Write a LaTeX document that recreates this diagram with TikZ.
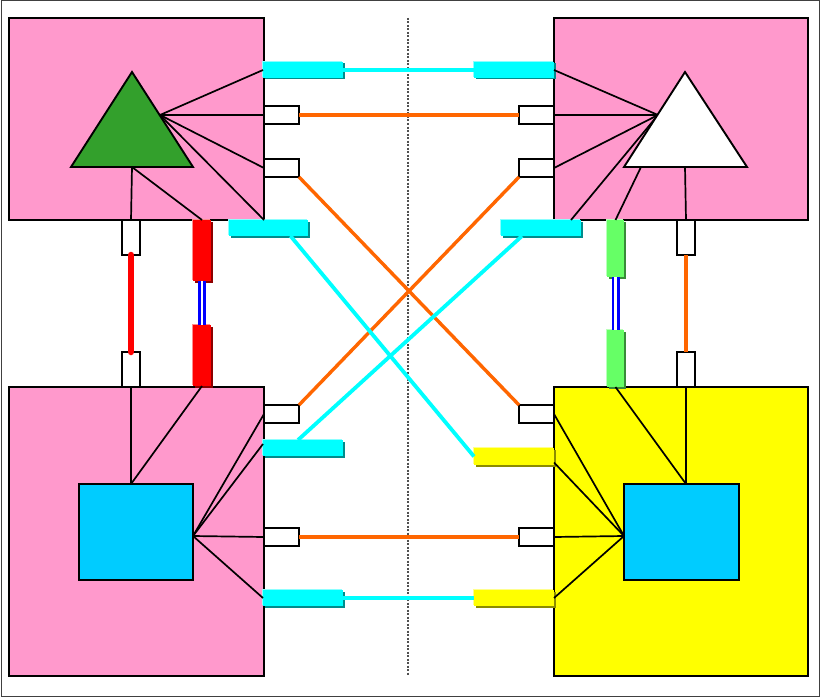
\documentclass[tikz,border=0pt]{standalone}
\usetikzlibrary{shadows}
\definecolor{boxpink}{RGB}{255,153,204}
\definecolor{boxyellow}{RGB}{255,255,0}
\definecolor{trigreen}{RGB}{51,160,44}
\definecolor{sqblue}{RGB}{0,204,255}
\definecolor{linkcyan}{RGB}{0,255,255}
\definecolor{linkred}{RGB}{255,0,0}
\definecolor{linkblue}{RGB}{0,0,255}
\definecolor{linkorange}{RGB}{255,102,0}
\definecolor{portgreen}{RGB}{102,255,102}
\definecolor{midgray}{RGB}{80,80,80}
\tikzset{
  site/.style={draw=black, line width=2.2pt, inner sep=0pt, outer sep=0pt, anchor=north west},
  wire/.style={line width=1.7pt},
  wport/.style={draw=black, fill=white, line width=1.7pt, inner sep=0pt, outer sep=0pt, anchor=north west},
  lport/.style={fill=#1, inner sep=0pt, outer sep=0pt, anchor=north west,
    general shadow={fill=#1!45!white, shadow xshift=-1.3pt, shadow yshift=1.3pt},
    general shadow={fill=#1!55!black, shadow xshift=1.5pt, shadow yshift=-1.5pt}},
  cline/.style={linkcyan, line width=3.8pt},
  oline/.style={linkorange, line width=3.4pt},
  bline/.style={draw=linkblue, double=white, line width=2.6pt, double distance=2.8pt},
}
\begin{document}
\begin{tikzpicture}[x=1pt,y=1pt,yscale=-1]
	\useasboundingbox (0,0) rectangle (821,698);
	%Frame
	\draw [black!75, line width=1pt] (1,1) rectangle (819.5,696.5);
	
	%Shape: Sites
	\node [site, fill=boxpink, minimum width=255pt, minimum height=202pt] (tlbox) at (9,18) {};
	\node [site, fill=boxpink, minimum width=254pt, minimum height=202pt] (trbox) at (554,18) {};
	\node [site, fill=boxpink, minimum width=255pt, minimum height=289pt] (blbox) at (9,387) {};
	\node [site, fill=boxyellow, minimum width=254pt, minimum height=289pt] (brbox) at (554,387) {};
	
	%Dotted divider
	\draw [midgray, line width=2pt, dash pattern={on 2pt off 1.5pt}] (408,18) -- (408,676);
	
	%Ports: top left
	\node [lport=linkcyan, minimum width=80pt, minimum height=16pt] (tlc1) at (263,62) {};
	\node [wport, minimum width=35pt, minimum height=18pt] (tlw1) at (264,106) {};
	\node [wport, minimum width=35pt, minimum height=18pt] (tlw2) at (264,159) {};
	\node [lport=linkcyan, minimum width=79pt, minimum height=16pt] (tlc2) at (229,220) {};
	\node [wport, minimum width=18pt, minimum height=35pt] (tlw3) at (122,220) {};
	\node [lport=linkred, minimum width=18pt, minimum height=61pt] (tlr) at (193,220) {};
	%Ports: top right
	\node [lport=linkcyan, minimum width=80pt, minimum height=16pt] (trc1) at (474,62) {};
	\node [wport, minimum width=35pt, minimum height=18pt] (trw1) at (519,106) {};
	\node [wport, minimum width=35pt, minimum height=18pt] (trw2) at (519,159) {};
	\node [lport=linkcyan, minimum width=80pt, minimum height=16pt] (trc2) at (501,220) {};
	\node [lport=portgreen, minimum width=17pt, minimum height=57pt] (trg) at (607,220) {};
	\node [wport, minimum width=18pt, minimum height=35pt] (trw3) at (677,220) {};
	%Ports: bottom left
	\node [wport, minimum width=18pt, minimum height=35pt] (blw3) at (122,352) {};
	\node [lport=linkred, minimum width=18pt, minimum height=61pt] (blr) at (193,325) {};
	\node [wport, minimum width=35pt, minimum height=18pt] (blw1) at (264,405) {};
	\node [lport=linkcyan, minimum width=80pt, minimum height=16pt] (blc1) at (263,440) {};
	\node [wport, minimum width=35pt, minimum height=18pt] (blw2) at (264,528) {};
	\node [lport=linkcyan, minimum width=80pt, minimum height=16pt] (blc2) at (263,590) {};
	%Ports: bottom right
	\node [lport=portgreen, minimum width=17pt, minimum height=57pt] (brg) at (607,330) {};
	\node [wport, minimum width=18pt, minimum height=35pt] (brw3) at (677,352) {};
	\node [wport, minimum width=35pt, minimum height=18pt] (brw1) at (519,405) {};
	\node [lport=boxyellow, minimum width=80pt, minimum height=17pt] (bry1) at (474,448) {};
	\node [wport, minimum width=35pt, minimum height=18pt] (brw2) at (519,528) {};
	\node [lport=boxyellow, minimum width=80pt, minimum height=16pt] (bry2) at (474,590) {};
	
	%Shape: Triangles and squares
	\coordinate (tltop) at (132,72);
	\coordinate (tlbase) at (132,167);
	\coordinate (tlfan) at (160,115);
	\coordinate (trtop) at (685,72);
	\coordinate (trbase) at (685,167);
	\coordinate (trfan) at (658,115);
	\coordinate (trfoot) at (641,167);
	\node [site, fill=sqblue, minimum width=114pt, minimum height=96pt] (blsq) at (79,484) {};
	\node [site, fill=sqblue, minimum width=115pt, minimum height=96pt] (brsq) at (624,484) {};
	\coordinate (blfan) at (193,536);
	\coordinate (brfan) at (624,536);
	
	%Straight Lines: inside top left
	\draw [wire] (tlfan) -- (tlc1.west);
	\draw [wire] (tlfan) -- (tlw1.west);
	\draw [wire] (tlfan) -- (tlw2.west);
	\draw [wire] (tlfan) -- (tlbox.south east);
	\draw [wire] (tlbase) -- (tlw3.north);
	\draw [wire] (tlbase) -- (tlr.north);
	%Straight Lines: inside top right
	\draw [wire] (trfan) -- (trc1.east);
	\draw [wire] (trfan) -- (trw1.east);
	\draw [wire] (trfan) -- (trw2.east);
	\draw [wire] (trfan) -- ([xshift=30pt]trc2.north);
	\draw [wire] (trfoot) -- (trg.north);
	\draw [wire] (trbase) -- (trw3.north);
	%Straight Lines: inside bottom left
	\draw [wire] (blw3.south) -- (blw3.south |- blsq.north);
	\draw [wire] (blr.south) -- (blw3.south |- blsq.north);
	\draw [wire] (blfan) -- (blw1.west);
	\draw [wire] (blfan) -- ([yshift=-4pt]blc1.west);
	\draw [wire] (blfan) -- (blw2.west);
	\draw [wire] (blfan) -- (blc2.west);
	%Straight Lines: inside bottom right
	\draw [wire] (brw3.south) -- (brw3.south |- brsq.north);
	\draw [wire] (brg.south) -- (brw3.south |- brsq.north);
	\draw [wire] (brfan) -- (brw1.east);
	\draw [wire] (brfan) -- ([yshift=6pt]bry1.east);
	\draw [wire] (brfan) -- (brw2.east);
	\draw [wire] (brfan) -- (bry2.east);
	
	%Shape: Triangles
	\draw [line width=1.9pt, fill=trigreen] (tltop) -- (193,167) -- (71,167) -- cycle;
	\draw [line width=1.9pt, fill=white] (trtop) -- (747,167) -- (624,167) -- cycle;
	
	%Links
	\draw [cline] (tlc1.east) -- (trc1.west);
	\draw [oline] (tlw1.east) -- (trw1.west);
	\draw [oline] (tlw2.south east) -- (brw1.north west);
	\draw [oline] (trw2.south west) -- (blw1.north east);
	\draw [cline] ([xshift=22pt]tlc2.south) -- (bry1.west);
	\draw [cline] ([xshift=-19pt]trc2.south) -- ([xshift=-5pt]blc1.north);
	\draw [oline] (blw2.east) -- (brw2.west);
	\draw [cline] (blc2.east) -- (bry2.west);
	\draw [linkred, line width=6.5pt, line cap=round] (tlw3.south) -- (blw3.north);
	\draw [bline] (tlr.south) -- (blr.north);
	\draw [bline] (trg.south) -- (brg.north);
	\draw [oline] (trw3.south) -- (brw3.north);
	
\end{tikzpicture}
\end{document}
